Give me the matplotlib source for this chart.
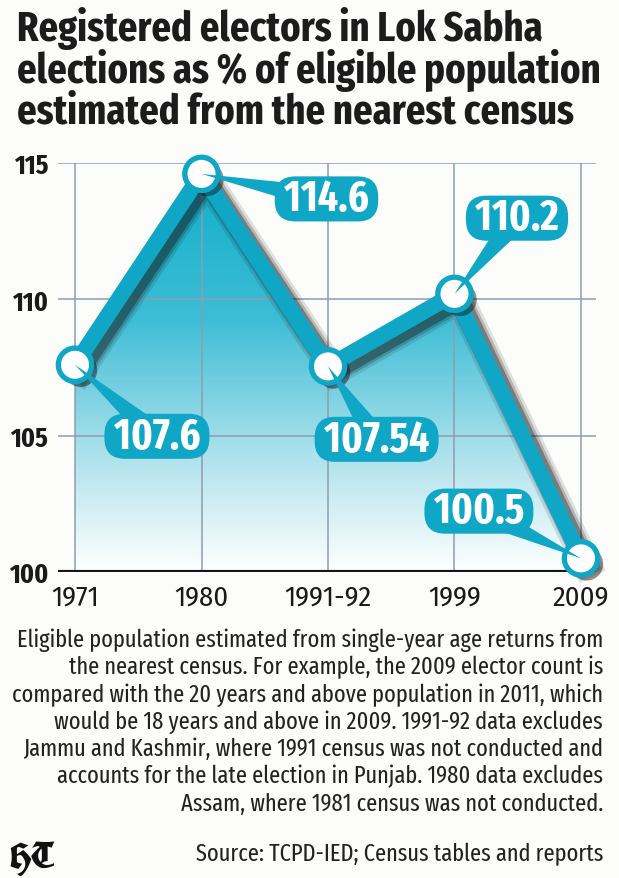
import numpy as np
import matplotlib
matplotlib.use("Agg")
import matplotlib.pyplot as plt
import matplotlib.patheffects as pe
from matplotlib.colors import LinearSegmentedColormap
from matplotlib.patches import PathPatch

# datos del grafico
anios = ["1971", "1980", "1991-92", "1999", "2009"]
valores = [107.6, 114.6, 107.54, 110.2, 100.5]
etiquetas = ["107.6", "114.6", "107.54", "110.2", "100.5"]
yticks = [100, 105, 110, 115]

titulo = ["Registered electors in Lok Sabha",
          "elections as % of eligible population",
          "estimated from the nearest census"]
nota = ["Eligible population estimated from single-year age returns from",
        "the nearest census. For example, the 2009 elector count is",
        "compared with the 20 years and above population in 2011, which",
        "would be 18 years and above in 2009. 1991-92 data excludes",
        "Jammu and Kashmir, where 1991 census was not conducted and",
        "accounts for the late election in Punjab. 1980 data excludes",
        "Assam, where 1981 census was not conducted."]
fuente = "Source: TCPD-IED; Census tables and reports"

# posicion de cada etiqueta respecto a su punto (en puntos)
offsets = [(59, -51.5), (90, -18), (35, -52.5), (45, 54.5), (-73.5, 34)]

plt.rcParams['font.family'] = ['Fira Sans Condensed', 'DejaVu Sans']
cond = ['Fira Sans Extra Condensed', 'DejaVu Sans']
teal = "#0fa7c5"
fondo = "#fcfcfa"
W, H = 619, 879

fig = plt.figure(figsize=(6.19, 8.79), dpi=100, facecolor=fondo)
ax = fig.add_axes([58 / W, 1 - 573 / H, (596 - 58) / W, (573 - 164) / H])
ax.set_facecolor(fondo)

x = np.arange(len(anios))
x0, x1 = -(75 - 58) / 126.5, 4 + (596 - 581) / 126.5
ax.set_xlim(x0, x1)
ax.set_ylim(100, 115)

# rejilla y ejes
ax.set_yticks(yticks)
ax.set_xticks(x)
ax.set_xticklabels(anios)
ax.grid(True, color="#8d9db0", lw=1.1, zorder=0)
for s in ax.spines.values():
    s.set_visible(False)
ax.tick_params(length=0)
ax.tick_params(axis="y", pad=7, labelsize=20, labelcolor="#1a1a1a")
ax.tick_params(axis="x", pad=8, labelsize=20.5, labelcolor="#1a1a1a")
for t in ax.get_yticklabels():
    t.set_fontweight("bold")
    t.set_family(cond)

# relleno en degradado
relleno = ax.fill_between(x, valores, 100, color="none", lw=0)
cmap = LinearSegmentedColormap.from_list(
    "g", [(0, "#ffffff"), (0.3, "#a9e0eb"), (0.62, "#3dbdd5"), (1, "#0fadc9")])
grad = np.linspace(0, 1, 256).reshape(-1, 1)
im = ax.imshow(grad, extent=[x0, x1, 100, 115], origin="lower", aspect="auto",
               cmap=cmap, zorder=1)
clip = PathPatch(relleno.get_paths()[0], transform=ax.transData, fc="none", ec="none")
ax.add_patch(clip)
im.set_clip_path(clip)
ax.set_xlim(x0, x1)
ax.set_ylim(100, 115)

# linea base
ax.axhline(100, xmin=0, xmax=(4 - x0) / (x1 - x0), color="#151515", lw=3, zorder=2)

# linea principal con sombra difusa
lw = 11.5
sombras = [pe.SimpleLineShadow(offset=(4, -4), shadow_color="#111111", alpha=a, linewidth=lw + d)
           for a, d in [(0.12, 9), (0.2, 5), (0.35, 1.5)]]
ax.plot(x, valores, color=teal, lw=lw, solid_joinstyle="miter", zorder=3, clip_on=False,
        path_effects=sombras + [pe.Normal()])

# marcadores
ax.plot(x, valores, ls="none", marker="o", ms=24, mfc="white", mec=teal, mew=3.8,
        zorder=4, clip_on=False,
        path_effects=[pe.SimplePatchShadow(offset=(4, -4), shadow_rgbFace="#111111", alpha=0.45),
                      pe.Normal()])

# etiquetas de valores
for i in range(len(valores)):
    ax.annotate(" " + etiquetas[i] + " ", (x[i], valores[i]), xytext=offsets[i],
                textcoords="offset points", ha="center", va="center",
                fontsize=31, fontweight="bold", family=cond, color="white", zorder=5,
                bbox=dict(boxstyle="round,pad=0.03,rounding_size=0.48", fc=teal, ec="none"),
                arrowprops=dict(arrowstyle="wedge,tail_width=1.75", mutation_scale=10,
                                patchA=None, fc=teal, ec="none", shrinkA=0, shrinkB=0),
                annotation_clip=False)

# titulo
fig.canvas.draw()
r = fig.canvas.get_renderer()
lineas = []
for k, y in enumerate([41, 83, 124]):
    lineas.append(fig.text(17 / W, 1 - y / H, titulo[k], ha="left", va="baseline",
                           fontsize=27, fontweight="bold", family=cond, color="#1c1c1c"))
escala = 583 / lineas[1].get_window_extent(r).width
for t in lineas:
    t.set_fontsize(27 * escala)

# nota y fuente
notas = []
for k in range(len(nota)):
    y = 647 + k * 27.3
    notas.append(fig.text(603 / W, 1 - y / H, nota[k], ha="right", va="baseline",
                          fontsize=17, family=cond, color="#222222"))
notas.append(fig.text(603 / W, 1 - 861 / H, fuente, ha="right", va="baseline",
                      fontsize=17, family=cond, color="#222222"))
escala = (603 - 15) / notas[0].get_window_extent(r).width
for t in notas:
    t.set_fontsize(17 * escala)

fig.text(9 / W, 1 - 869 / H, "HT", ha="left", va="baseline", fontsize=26, fontweight="bold",
         family=["UnifrakturCook", "UnifrakturMaguntia", "DejaVu Serif"], color="#111111")

plt.savefig("out.png", dpi=100, facecolor=fondo)
